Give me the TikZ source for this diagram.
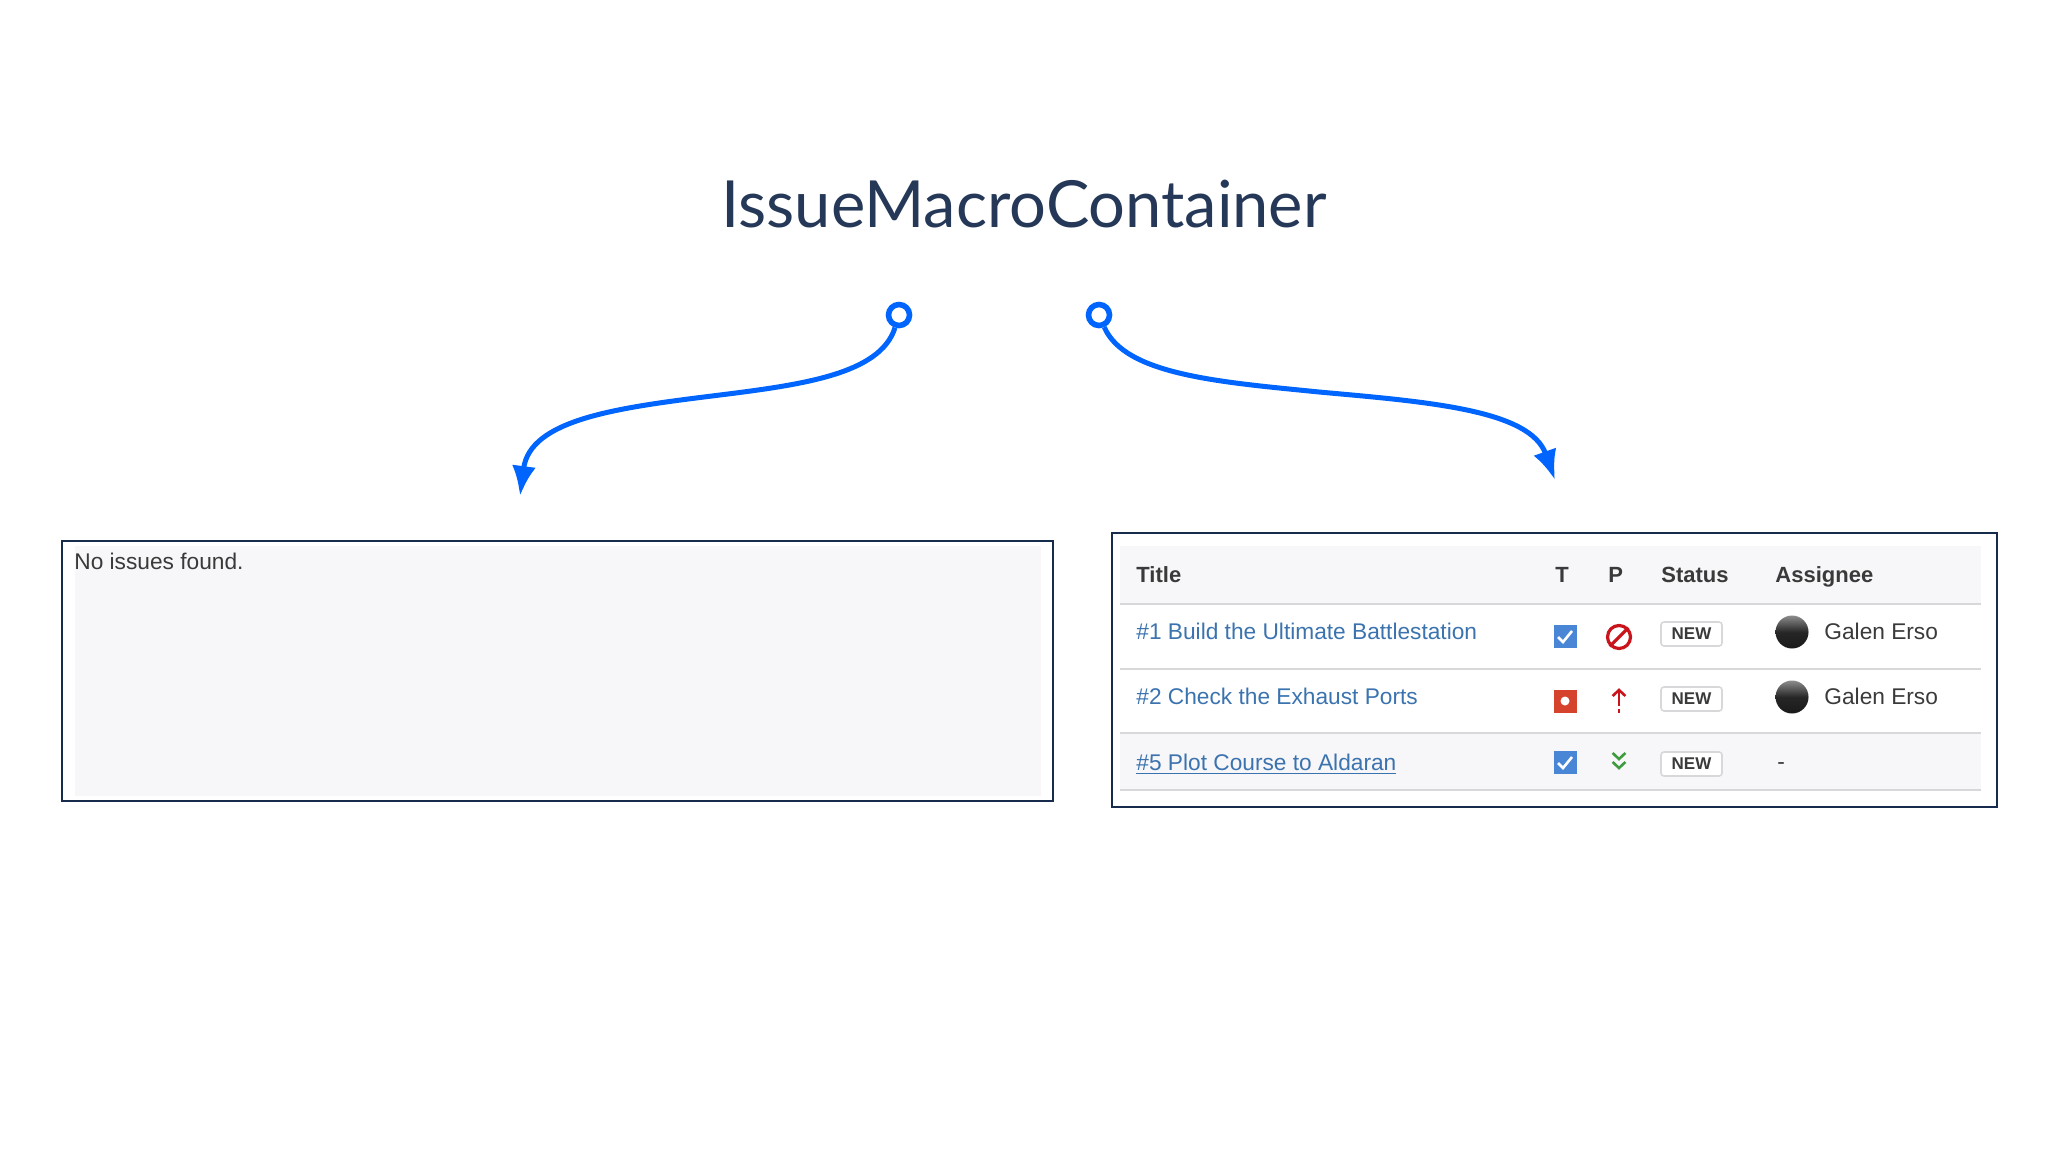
\documentclass[tikz,border=0pt]{standalone}
\usepackage{fontspec}
\setmainfont{Liberation Sans}
\newfontfamily\titlefont{Lato}
\usetikzlibrary{arrows.meta}

\definecolor{navy}{HTML}{172B4D}
\definecolor{titleink}{HTML}{253858}
\definecolor{flowblue}{HTML}{0065FF}
\definecolor{panelgrey}{HTML}{F7F6F8}
\definecolor{rulegrey}{HTML}{D8D8DA}
\definecolor{linkblue}{HTML}{3B73AF}
\definecolor{inktext}{HTML}{3A3A3A}
\definecolor{taskblue}{HTML}{4A86D6}
\definecolor{bugred}{HTML}{D5432C}
\definecolor{prired}{HTML}{C8141A}
\definecolor{prigreen}{HTML}{3E9B3E}

\tikzset{
	frame/.style={draw=navy,line width=1.2pt},
	panel/.style={fill=panelgrey,draw=none},
	rowrule/.style={draw=rulegrey,line width=1pt},
	startring/.style={circle,draw=flowblue,line width=2.8pt,fill=white,minimum size=10.5pt,inner sep=0pt},
	flowarrow/.style={draw=flowblue,line width=2.5pt,-{Latex[length=15pt,width=12pt]}},
	headcell/.style={anchor=west,inner sep=0pt,text height=8pt,text depth=2pt,text=inktext,font=\fontsize{11}{13}\selectfont\bfseries},
	linkcell/.style={anchor=west,inner sep=0pt,text height=8pt,text depth=2pt,text=linkblue,font=\fontsize{11.35}{13}\selectfont},
	bodycell/.style={anchor=west,inner sep=0pt,text height=8pt,text depth=2pt,text=inktext,font=\fontsize{11.35}{13}\selectfont},
	badge/.style={draw=rulegrey,fill=white,rounded corners=1.5pt,line width=0.8pt,minimum width=30.5pt,minimum height=12pt,inner sep=0pt,text=inktext,font=\fontsize{8.5}{10}\selectfont\bfseries},
	taskicon/.style={minimum size=11.5pt,inner sep=0pt},
	tick/.style={draw=white,line width=1.3pt},
	avatar/.style={circle,minimum size=16.5pt,inner sep=0pt,top color=black!45,bottom color=black!90,middle color=black!85}
}

\begin{document}
\begin{tikzpicture}[x=0.5pt,y=-0.5pt]
	\useasboundingbox (0,0) rectangle (2048,1152);
	\node[text=titleink,font=\titlefont\fontsize{32.5}{38}\selectfont] (title) at (1024,204) {IssueMacroContainer};

	% the two arrows
	\node[startring] (startA) at (899,315) {};
	\node[startring] (startB) at (1099,315) {};
	\coordinate (midA) at (712,396);
	\coordinate (endA) at (520,496);
	\coordinate (midB) at (1319,392);
	\coordinate (endB) at (1555,480);
	\draw[flowarrow] (startA) .. controls (880,375) and (800,385) .. (midA) .. controls (615,408) and (530,420) .. (endA);
	\draw[flowarrow] (startB) .. controls (1125,375) and (1220,382) .. (midB) .. controls (1430,402) and (1530,410) .. (endB);

	% left box
	\draw[frame] (62,541) rectangle (1053,801);
	\path[panel] (75,546) rectangle (1041,796);
	\node[bodycell] (empty) at (74,563.5) {No issues found.};

	% right box
	\draw[frame] (1112,533) rectangle (1997,807);
	\path[panel] (1120,546) rectangle (1981,604);
	\path[panel] (1120,733) rectangle (1981,790);
	\draw[rowrule] (1120,604) -- (1981,604);
	\draw[rowrule] (1120,669) -- (1981,669);
	\draw[rowrule] (1120,733) -- (1981,733);
	\draw[rowrule] (1120,790) -- (1981,790);

	\node[headcell] (htitle) at (1136,576.5) {Title};
	\node[headcell] (htype) at (1555,576.5) {T};
	\node[headcell] (hprio) at (1608,576.5) {P};
	\node[headcell] (hstatus) at (1661,576.5) {Status};
	\node[headcell] (hassignee) at (1775,576.5) {Assignee};

	% row 1
	\node[linkcell] (issueA) at (1136,633.5) {\#1 Build the Ultimate Battlestation};
	\node[taskicon,fill=taskblue] (typeA) at (1565,636) {};
	\draw[tick] (1558,637) -- (1563,642) -- (1572,631);
	\node[circle,draw=prired,line width=1.6pt,minimum size=11.5pt,inner sep=0pt] (prioA) at (1619,637) {};
	\draw[draw=prired,line width=1.6pt] (prioA.south west) -- (prioA.north east);
	\node[badge] (statusA) at (1691.5,634) {NEW};
	\node[avatar] (avatarA) at (1792,632) {};
	\node[bodycell] (nameA) at (1824,633.5) {Galen Erso};

	% row 2
	\node[linkcell] (issueB) at (1136,698.5) {\#2 Check the Exhaust Ports};
	\node[taskicon,fill=bugred] (typeB) at (1565,701) {};
	\node[circle,fill=white,minimum size=4.5pt,inner sep=0pt] (dotB) at (typeB) {};
	\coordinate (prioB) at (1619,701);
	\draw[draw=prired,line width=1.3pt] ([yshift=5.5pt]prioB) -- ([yshift=-2.5pt]prioB);
	\draw[draw=prired,line width=1.3pt] ([xshift=-3.2pt,yshift=2.5pt]prioB) -- ([yshift=5.5pt]prioB) -- ([xshift=3.2pt,yshift=2.5pt]prioB);
	\draw[draw=prired,line width=1.3pt] ([yshift=-4pt]prioB) -- ([yshift=-6pt]prioB);
	\node[badge] (statusB) at (1691.5,699) {NEW};
	\node[avatar] (avatarB) at (1792,697) {};
	\node[bodycell] (nameB) at (1824,698.5) {Galen Erso};

	% row 3
	\node[linkcell] (issueC) at (1136,764) {\underline{\#5 Plot Course to Aldaran}};
	\node[taskicon,fill=taskblue] (typeC) at (1565,762) {};
	\draw[tick] (1558,763) -- (1563,768) -- (1572,757);
	\coordinate (prioC) at (1619,762);
	\draw[draw=prigreen,line width=1.3pt] ([xshift=-3.2pt,yshift=4.5pt]prioC) -- ([yshift=1.5pt]prioC) -- ([xshift=3.2pt,yshift=4.5pt]prioC);
	\draw[draw=prigreen,line width=1.3pt] ([xshift=-3.2pt,yshift=0pt]prioC) -- ([yshift=-3pt]prioC) -- ([xshift=3.2pt,yshift=0pt]prioC);
	\node[badge] (statusC) at (1691.5,764) {NEW};
	\node[bodycell] (nameC) at (1777,763) {-};
\end{tikzpicture}
\end{document}
